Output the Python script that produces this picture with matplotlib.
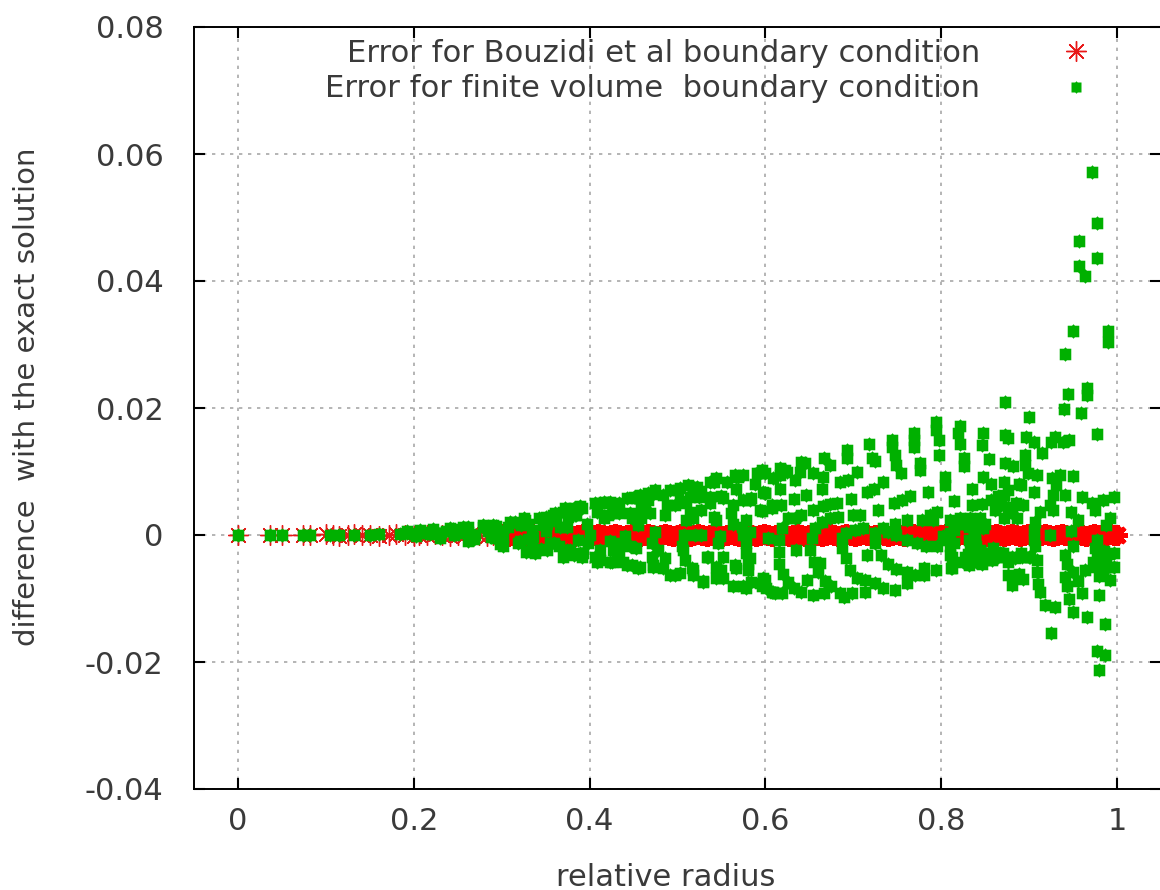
import matplotlib
matplotlib.use("Agg")
import matplotlib.pyplot as plt
from matplotlib.lines import Line2D

x_ticks = [0, 0.2, 0.4, 0.6, 0.8, 1]
x_tick_labels = ["0", "0.2", "0.4", "0.6", "0.8", "1"]
y_ticks = [-0.04, -0.02, 0, 0.02, 0.04, 0.06, 0.08]
y_tick_labels = ["-0.04", "-0.02", "0", "0.02", "0.04", "0.06", "0.08"]

# red stars: error stays close to zero everywhere
red_x = [0, 0.036, 0.05, 0.074, 0.082, 0.1, 0.108, 0.115, 0.125, 0.132, 0.141, 0.15, 0.16, 0.172,
         0.18, 0.19, 0.2, 0.206, 0.215, 0.224, 0.232, 0.241, 0.25, 0.258, 0.265, 0.274, 0.283, 0.29]
red_y = [0, 0, 0, 0, 0, 0.0001, 0, -0.0001, 0, 0.0001, 0, 0, -0.0001, 0,
         0.0001, 0, -0.0001, 0, 0, 0.0001, 0, -0.0001, 0, 0, 0.0001, 0, -0.0001, 0]

# further out the stars overlap into a solid band
red_band = [
    (0.298, 0.0001), (0.303, 0), (0.307, -0.0001), (0.312, 0), (0.316, 0.0001), (0.321, 0),
    (0.326, -0.0001), (0.33, 0), (0.335, 0.0001), (0.34, 0), (0.345, -0.0001), (0.349, 0),
    (0.354, 0.0001), (0.359, 0), (0.363, -0.0001), (0.368, 0), (0.373, 0.0001), (0.377, 0),
    (0.382, -0.0001), (0.387, 0), (0.392, 0.0001), (0.396, 0), (0.401, -0.0001), (0.406, 0),
    (0.41, 0.0001), (0.415, 0), (0.42, -0.0001), (0.424, 0), (0.429, 0.0001), (0.434, 0),
    (0.439, -0.0001), (0.443, 0), (0.448, 0.0001), (0.453, 0), (0.457, -0.0001), (0.462, 0),
    (0.467, 0.0001), (0.471, 0), (0.476, -0.0001), (0.481, 0), (0.486, 0.0001), (0.49, 0),
    (0.495, -0.0001), (0.5, 0), (0.504, 0.0001), (0.509, 0), (0.514, -0.0001), (0.518, 0),
    (0.523, 0.0001), (0.528, 0), (0.533, -0.0001), (0.537, 0), (0.542, 0.0001), (0.547, 0),
    (0.551, -0.0001), (0.556, 0), (0.561, 0.0001), (0.565, 0), (0.57, -0.0001), (0.575, 0),
    (0.58, 0.0001), (0.584, 0), (0.589, -0.0001), (0.594, 0), (0.598, 0.0001), (0.603, 0),
    (0.608, -0.0001), (0.612, 0), (0.617, 0.0001), (0.622, 0), (0.627, -0.0001), (0.631, 0),
    (0.636, 0.0001), (0.641, 0), (0.645, -0.0001), (0.65, 0), (0.655, 0.0001), (0.659, 0),
    (0.664, -0.0001), (0.669, 0), (0.674, 0.0001), (0.678, 0), (0.683, -0.0001), (0.688, 0),
    (0.692, 0.0001), (0.697, 0), (0.702, -0.0001), (0.706, 0), (0.711, 0.0001), (0.716, 0),
    (0.721, -0.0001), (0.725, 0), (0.73, 0.0001), (0.735, 0), (0.739, -0.0001), (0.744, 0),
    (0.749, 0.0001), (0.753, 0), (0.758, -0.0001), (0.763, 0), (0.768, 0.0001), (0.772, 0),
    (0.777, -0.0001), (0.782, 0), (0.786, 0.0001), (0.791, 0), (0.796, -0.0001), (0.8, 0),
    (0.805, 0.0001), (0.81, 0), (0.815, -0.0001), (0.819, 0), (0.824, 0.0001), (0.829, 0),
    (0.833, -0.0001), (0.838, 0), (0.843, 0.0001), (0.847, 0), (0.852, -0.0001), (0.857, 0),
    (0.862, 0.0001), (0.866, 0), (0.871, -0.0001), (0.876, 0), (0.88, 0.0001), (0.885, 0),
    (0.89, -0.0001), (0.894, 0), (0.899, 0.0001), (0.904, 0), (0.909, -0.0001), (0.913, 0),
    (0.918, 0.0001), (0.923, 0), (0.927, -0.0001), (0.932, 0), (0.937, 0.0001), (0.941, 0),
    (0.946, -0.0001), (0.951, 0), (0.956, 0.0001), (0.96, 0), (0.965, -0.0001), (0.97, 0),
    (0.974, 0.0001), (0.979, 0), (0.984, -0.0001), (0.988, 0), (0.992, 0.0001), (0.996, 0),
    (1.0, 0),
]

green_centre = [
    (0, 0), (0.036, 0), (0.05, 0), (0.074, 0), (0.082, 0), (0.105, 0), (0.115, 0), (0.132, 0),
    (0.15, 0), (0.16, 0.0001), (0.184, 0.0001), (0.192, 0.0003), (0.192, 0.0006), (0.2, 0.0002),
    (0.203, -0.0001), (0.207, 0.0008), (0.211, 0.0005), (0.215, 0.0003), (0.218, 0.0001),
    (0.222, 0.0009), (0.228, 0.0003), (0.23, -0.0005), (0.23, 0.0002), (0.237, 0.0006),
    (0.241, 0.0011), (0.245, 0.0009), (0.246, 0), (0.25, 0.0003), (0.256, 0.0012), (0.262, 0.0013),
    (0.262, 0.0005), (0.262, -0.001), (0.268, -0.0006), (0.27, 0), (0.279, 0.0016), (0.279, 0.0012),
    (0.284, 0.0006), (0.288, -0.0003), (0.29, 0.0016), (0.292, -0.0005), (0.294, 0.0014),
    (0.298, -0.0014), (0.299, 0.0006), (0.3, -0.0008), (0.302, -0.0003), (0.302, -0.0018),
    (0.307, 0.0012), (0.309, 0.0021), (0.315, 0.0021), (0.318, -0.0012), (0.321, -0.001),
    (0.322, 0.0016), (0.325, 0.0026), (0.326, 0.0024), (0.328, -0.0026), (0.33, 0.0018),
    (0.33, -0.0006), (0.335, 0.0008), (0.335, -0.0015), (0.336, -0.0003), (0.338, -0.0028),
    (0.342, 0.0027), (0.345, -0.0022), (0.347, 0.0016), (0.35, 0.0028), (0.35, 0.0006),
    (0.351, -0.0024), (0.352, 0.0018), (0.355, -0.0012), (0.358, 0.0032), (0.36, -0.0012),
    (0.361, 0.0034), (0.362, 0.0022), (0.365, -0.0018), (0.366, 0.0013), (0.37, 0.0037),
    (0.37, -0.0034), (0.372, 0.0042), (0.374, -0.0024), (0.374, 0.0012), (0.375, 0.0028),
    (0.378, -0.0024), (0.382, 0.0042), (0.382, -0.0032), (0.383, 0.0032), (0.385, 0.0032),
    (0.387, -0.0008), (0.389, 0.0045), (0.389, -0.0028), (0.391, 0.0042), (0.391, -0.0034),
    (0.393, -0.0029), (0.397, 0.0018), (0.398, -0.0013),
]
green_lower_mid = [
    (0.4, 0), (0.406, 0.005), (0.406, -0.0034), (0.408, -0.0042), (0.408, 0.0037), (0.412, 0.005),
    (0.412, -0.0024), (0.412, -0.0039), (0.416, 0.0052), (0.416, 0.0026), (0.421, 0.005),
    (0.421, 0.0031), (0.423, 0.0052), (0.423, -0.0042), (0.423, -0.001), (0.425, -0.0042),
    (0.427, 0.0034), (0.427, -0.0024), (0.434, 0.005), (0.434, 0.0034), (0.434, -0.0029),
    (0.436, -0.0013), (0.438, -0.0042), (0.44, -0.0002), (0.442, 0.0058), (0.442, -0.0047),
    (0.446, 0.0034), (0.446, -0.0018), (0.448, 0.0026), (0.448, -0.0047), (0.45, 0.006),
    (0.453, 0.0058), (0.453, -0.0021), (0.455, -0.0052), (0.455, 0.0016), (0.457, 0.0029),
    (0.457, 0.0063), (0.457, -0.005), (0.459, 0.0042), (0.459, 0.0026), (0.463, 0.005),
    (0.467, 0.0066), (0.467, 0.0055), (0.469, 0.0034), (0.471, -0.0013), (0.471, -0.0034),
    (0.472, 0.0065), (0.472, -0.0047), (0.472, -0.005), (0.474, 0.0071), (0.474, 0.0005),
    (0.478, -0.0024), (0.484, 0.0063), (0.484, -0.0052), (0.486, 0.0031), (0.486, -0.0037),
    (0.488, 0.0047), (0.491, 0.0071), (0.491, -0.0063), (0.497, 0.0047), (0.497, -0.0063),
    (0.501, 0.0071), (0.503, 0.0074), (0.503, 0.0053), (0.503, -0.006), (0.505, -0.0018),
    (0.506, -0.0024), (0.507, 0), (0.508, -0.004), (0.51, 0.005), (0.51, 0.0024), (0.512, 0.0079),
    (0.514, 0.006), (0.514, 0.0037), (0.516, -0.0052), (0.518, 0.0076), (0.518, 0.0026),
    (0.518, -0.0055), (0.518, -0.0063), (0.52, 0), (0.522, 0.0076), (0.524, 0.006), (0.527, 0.0039),
    (0.527, 0.007), (0.527, 0), (0.529, -0.0074), (0.529, -0.0073), (0.533, -0.0034),
    (0.535, -0.0034), (0.537, 0.0084), (0.537, 0.006), (0.537, 0.005), (0.541, 0.0084),
    (0.541, 0.0029), (0.544, 0.0089), (0.544, 0.0024), (0.544, -0.005), (0.544, -0.0068),
    (0.546, -0.0013), (0.546, -0.006), (0.548, -0.0002), (0.55, 0.0062), (0.55, -0.0055),
    (0.552, 0.0059), (0.552, -0.0034), (0.552, -0.0068), (0.556, 0.0084), (0.561, 0.0034),
    (0.563, 0.0047), (0.563, 0.0018), (0.563, -0.0081), (0.565, 0.0094), (0.565, -0.0047),
    (0.567, 0.0073), (0.567, -0.0052), (0.569, 0.0092), (0.573, 0.0013), (0.575, 0.0094),
    (0.575, 0.0055), (0.575, 0), (0.575, -0.0081), (0.578, 0.0024), (0.578, -0.0013),
    (0.578, -0.0029), (0.578, -0.0084), (0.58, -0.0045), (0.58, -0.0055), (0.582, 0.0055),
    (0.582, 0.0005), (0.582, -0.0037), (0.584, 0.0058), (0.584, -0.0074), (0.588, 0.0081),
    (0.59, 0.0097), (0.594, 0.0097), (0.594, 0.0039), (0.594, -0.0076), (0.596, 0.0102),
    (0.596, 0.0038), (0.596, -0.0081), (0.597, 0.0068), (0.597, -0.0068), (0.597, -0.0071),
    (0.598, -0.0073), (0.599, 0.0066),
]
green_arcs = [
    (0.6, 0.0097), (0.6, 0.0066), (0.6, -0.0071), (0.601, -0.0084), (0.603, -0.0005), (0.607, 0.0047),
    (0.607, -0.0089), (0.608, 0.0042), (0.609, 0.009), (0.609, -0.0089), (0.611, -0.0092),
    (0.617, 0.0105), (0.617, 0.0094), (0.617, 0.0073), (0.618, 0.0047), (0.619, -0.0092),
    (0.622, 0.0102), (0.625, 0.01), (0.626, 0.0026), (0.619, 0.0011), (0.615, -0.0008),
    (0.615, -0.0026), (0.616, -0.0045), (0.62, -0.0061), (0.626, -0.0074), (0.632, -0.0084),
    (0.641, -0.0089), (0.632, 0.0056), (0.634, 0.0086), (0.634, 0.0026), (0.635, -0.0023),
    (0.639, 0.0099), (0.641, 0.0115), (0.641, 0.0031), (0.645, 0.0113), (0.646, 0.0063),
    (0.647, -0.0071), (0.654, 0.0098), (0.654, 0.0039), (0.654, -0.0094), (0.656, 0.0011),
    (0.653, -0.0005), (0.651, -0.0023), (0.655, -0.0042), (0.66, -0.0058), (0.662, -0.0044),
    (0.664, 0.0021), (0.664, 0.0073), (0.666, 0.0092), (0.666, 0.0046), (0.667, 0.0121),
    (0.667, -0.0091), (0.668, -0.0073), (0.673, 0.0026), (0.674, 0.011), (0.674, 0.0049),
    (0.675, -0.0081), (0.681, 0.005), (0.683, 0.0029), (0.685, 0.0084), (0.685, -0.0092),
    (0.689, -0.0097), (0.692, 0.0003), (0.687, -0.0005), (0.687, -0.0021), (0.692, -0.0037),
    (0.693, 0.0134), (0.693, 0.0121), (0.694, 0.0087), (0.696, -0.0055), (0.697, 0.0056),
    (0.699, -0.0091), (0.7, 0.0031), (0.702, 0.0008), (0.704, 0.01), (0.704, -0.0068),
    (0.708, 0.0031), (0.711, 0.0011), (0.713, -0.0071), (0.713, -0.0089), (0.715, 0.0068),
    (0.715, -0.0031), (0.718, 0.0144), (0.721, 0.0121), (0.723, 0.0072), (0.725, 0.0116),
    (0.725, 0.0003), (0.725, -0.0013), (0.725, -0.0076), (0.728, 0.0039), (0.732, -0.0032),
    (0.734, 0.0084), (0.734, 0.0011), (0.734, -0.0084), (0.74, 0.0005), (0.74, -0.0045),
    (0.744, 0.015), (0.744, 0.0139), (0.746, 0.005), (0.747, 0.0126), (0.747, 0.0018),
    (0.747, -0.0086), (0.749, 0.011), (0.749, 0), (0.749, -0.0053), (0.754, 0.0098),
    (0.755, 0.0055), (0.761, 0.0024), (0.761, -0.0008), (0.761, -0.0058), (0.761, -0.0076),
    (0.765, 0.0061), (0.77, -0.0063), (0.769, 0.016), (0.769, 0.015), (0.769, 0.0139),
    (0.772, -0.0013), (0.776, 0.0113), (0.776, 0.0102), (0.778, 0.0024), (0.78, -0.0052),
    (0.78, -0.0063), (0.783, -0.0018), (0.785, 0.0068), (0.787, 0.0031), (0.791, 0.0024),
    (0.794, 0.0178), (0.794, 0.0165), (0.794, -0.0055), (0.795, 0.0036), (0.795, -0.0018),
]
green_outer = [
    (0.798, 0.015), (0.798, 0.0126), (0.802, -0.0002), (0.804, 0.0092), (0.804, 0.0079),
    (0.806, -0.0008), (0.81, 0.0023), (0.81, 0.0003), (0.81, -0.0018), (0.81, -0.0031),
    (0.811, -0.0052), (0.812, -0.0034), (0.812, -0.0052), (0.814, 0.0008), (0.814, 0.0053),
    (0.815, 0.0018), (0.815, -0.0012), (0.818, 0.0018), (0.819, 0.016), (0.821, 0.0171),
    (0.821, 0.0144), (0.821, 0.0026), (0.826, 0.0121), (0.826, 0.0108), (0.826, 0.0018),
    (0.825, -0.0042), (0.827, -0.0034), (0.83, -0.003), (0.832, 0.0012), (0.832, -0.0008),
    (0.832, -0.0048), (0.833, 0.0026), (0.833, -0.0018), (0.835, 0.0073), (0.835, 0.0047),
    (0.838, 0.0012), (0.838, -0.0002), (0.838, -0.001), (0.838, -0.0035), (0.84, -0.0018),
    (0.84, -0.0042), (0.842, 0.0012), (0.844, 0.0026), (0.844, -0.0023), (0.846, 0.0142),
    (0.846, 0.0049), (0.846, -0.0045), (0.847, 0.016), (0.848, 0.0092), (0.848, 0.0011),
    (0.848, -0.0028), (0.85, 0.0018), (0.85, -0.0029), (0.85, -0.004), (0.854, 0.0119),
    (0.856, -0.0029), (0.857, 0.0081), (0.857, 0.0055), (0.858, -0.004), (0.859, -0.0021),
    (0.861, 0.0039), (0.862, -0.0027), (0.865, 0.0062), (0.865, -0.0035), (0.867, -0.0029),
    (0.868, 0.0048), (0.87, -0.0029), (0.871, 0.0084), (0.871, 0.0063), (0.871, 0.0026),
    (0.872, 0.0209), (0.872, -0.0035), (0.873, 0.0158), (0.873, 0.0113), (0.876, 0.0152),
    (0.876, 0.0071), (0.876, 0.0044), (0.876, -0.0042), (0.876, -0.0063), (0.88, 0.0035),
    (0.88, -0.0035), (0.88, -0.0078), (0.882, 0.0108), (0.884, -0.0036), (0.885, 0.005),
    (0.886, 0.0026), (0.888, 0.0081), (0.888, -0.0061), (0.891, 0.0078), (0.891, -0.0029),
    (0.892, -0.0035), (0.893, 0.0047), (0.893, -0.0069), (0.895, 0.0126), (0.895, 0.011),
    (0.896, 0.0155), (0.899, 0.0097), (0.9, 0.0186), (0.9, -0.0035), (0.901, -0.0034),
    (0.905, 0.0147), (0.905, 0.0068), (0.905, 0.0008), (0.905, -0.0008), (0.907, 0.0021),
    (0.907, -0.0018), (0.909, 0.0094), (0.909, -0.004), (0.909, -0.0058), (0.91, -0.0077),
    (0.912, 0.0036), (0.912, -0.009), (0.915, 0.0129), (0.918, -0.011), (0.924, 0.0047),
    (0.924, 0), (0.925, 0.0147), (0.925, -0.0155), (0.926, 0.0089), (0.927, 0.0063),
    (0.927, 0.0039), (0.929, 0.0154), (0.929, -0.0113), (0.931, 0.0078), (0.935, 0.0094),
    (0.939, 0.0147), (0.94, 0.0198), (0.941, 0.0285), (0.941, 0.0063), (0.941, -0.0031),
    (0.941, -0.0066), (0.943, -0.0046), (0.943, -0.0081), (0.944, 0.0222), (0.945, 0.015),
    (0.945, -0.01), (0.948, 0.0036), (0.948, 0.0007), (0.95, 0.0321), (0.95, 0.0093),
    (0.95, -0.0018), (0.95, -0.0058), (0.95, -0.0122), (0.956, 0.0023), (0.956, -0.0073),
    (0.957, 0.0463), (0.957, 0.0424), (0.959, 0.0192), (0.96, 0.006), (0.96, -0.0092),
    (0.964, 0.0408), (0.964, -0.0055), (0.966, 0.0231), (0.966, 0.022), (0.966, -0.0129),
    (0.971, 0.005), (0.972, 0.0572), (0.973, -0.0042), (0.975, 0.0039), (0.975, -0.002),
    (0.975, -0.005), (0.977, 0.0491), (0.977, 0.0436), (0.977, 0.0159), (0.977, -0.0008),
    (0.977, -0.0029), (0.977, -0.0182), (0.979, -0.0095), (0.979, -0.0213), (0.98, -0.0065),
    (0.984, 0.0055), (0.984, -0.006), (0.985, -0.0025), (0.985, -0.0045), (0.986, -0.014),
    (0.986, -0.0189), (0.988, 0.0016), (0.988, -0.004), (0.99, 0.0321), (0.99, 0.0304),
    (0.99, -0.003), (0.99, -0.005), (0.992, 0.0026), (0.992, -0.0071), (0.996, 0.006),
    (0.996, -0.0029), (0.996, -0.005),
]

green_points = green_centre + green_lower_mid + green_arcs + green_outer
green_x = [p[0] for p in green_points]
green_y = [p[1] for p in green_points]
band_x = [p[0] for p in red_band]
band_y = [p[1] for p in red_band]

red_label = "Error for Bouzidi et al boundary condition"
green_label = "Error for finite volume  boundary condition"

# filled gnuplot point: blocky body with small nubs top and bottom
blocky = [(-0.8, -0.8), (-0.2, -0.8), (0, -1), (0.2, -0.8), (0.8, -0.8),
          (0.8, 0.8), (0.2, 0.8), (0, 1), (-0.2, 0.8), (-0.8, 0.8)]
star = (8, 2, 0)

plt.rcParams["font.family"] = ["DejaVu Sans"]
text_color = "#3a3a3a"

fig = plt.figure(figsize=(11.6, 8.9), dpi=100)
ax = fig.add_axes([194 / 1160, 1 - 789 / 890, 967 / 1160, 762 / 890])

ax.plot(red_x, red_y, ls="none", marker=star, ms=14.5, mew=1.0, color="#e81818", zorder=3)
ax.plot(band_x, band_y, ls="none", marker=star, ms=15, mew=3.2, color="#ff0000", zorder=3)
ax.plot(green_x, green_y, ls="none", marker=blocky, ms=10.4, mew=0, color="#00b000", zorder=4)

ax.set_xlim(-0.05, 1.05)
ax.set_ylim(-0.04, 0.08)
ax.set_xticks(x_ticks)
ax.set_xticklabels(x_tick_labels)
ax.set_yticks(y_ticks)
ax.set_yticklabels(y_tick_labels)

ax.grid(True, color="#a8a8a8", lw=1.2, ls=(0, (2, 3.4)), zorder=1)
ax.set_axisbelow(True)
ax.tick_params(axis="both", direction="in", top=True, right=True, length=8, width=1.5,
               labelsize=22, labelcolor=text_color)
ax.tick_params(axis="x", pad=13)
ax.tick_params(axis="y", pad=22)
for spine in ax.spines.values():
    spine.set_linewidth(1.4)

fig.text(666 / 1160, 1 - 877 / 890, "relative radius", ha="center", va="center",
         fontsize=22, color=text_color)
fig.text(27 / 1160, 1 - 397 / 890, "difference  with the exact solution", ha="center",
         va="center", rotation=90, fontsize=21, color=text_color)

handles = [
    Line2D([], [], ls="none", marker=star, ms=14.5, mew=1.0, color="#e81818", label=red_label),
    Line2D([], [], ls="none", marker=blocky, ms=9.0, mew=0, color="#00b000", label=green_label),
]
ax.legend(handles=handles, loc="upper right", bbox_to_anchor=(966 / 967, 0.984), frameon=False,
          markerfirst=False, fontsize=22.1, numpoints=1, borderpad=0, borderaxespad=0,
          handlelength=5.5, handletextpad=0.35, labelspacing=0.2, alignment="right",
          labelcolor=text_color)

fig.savefig("out.png", dpi=100)
